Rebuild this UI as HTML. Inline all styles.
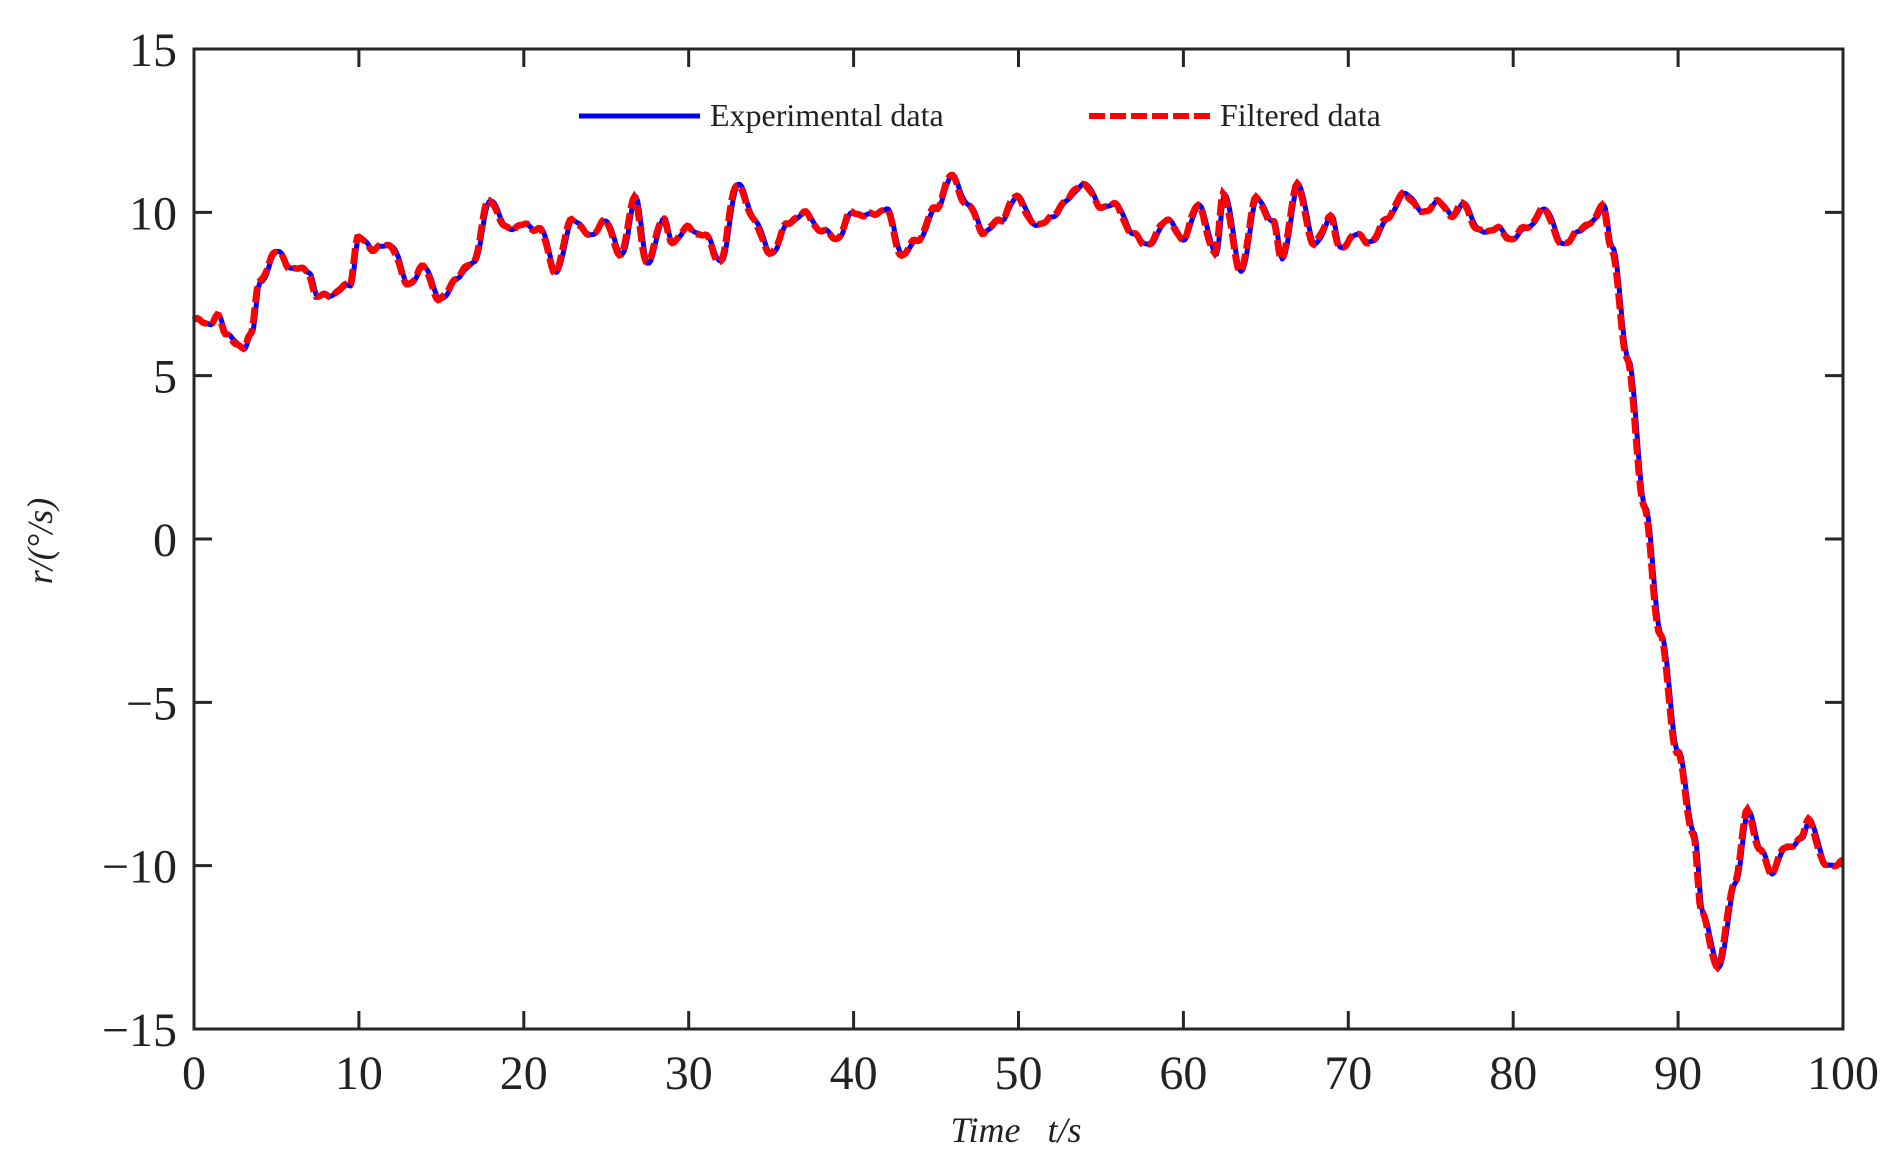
<!DOCTYPE html>
<html><head><meta charset="utf-8"><style>
html,body{margin:0;padding:0;background:#fff;}
svg text{font-family:"Liberation Serif",serif;fill:#222;}
</style></head><body>
<svg id="s" width="1898" height="1162" xmlns="http://www.w3.org/2000/svg">
<g id="ticks" stroke="#262626" stroke-width="3" fill="none"></g>
<g id="lines"></g>
<rect x="194" y="49" width="1649" height="980" fill="none" stroke="#262626" stroke-width="3"/>
<g id="labels" font-size="48"></g>
<line x1="579" y1="116" x2="700" y2="116" stroke="#0000ff" stroke-width="5"/>
<text x="710" y="126" font-size="32">Experimental data</text>
<line x1="1089" y1="116" x2="1211" y2="116" stroke="#ff0000" stroke-width="6" stroke-dasharray="16,5"/>
<text x="1220" y="126" font-size="32">Filtered data</text>
<text x="1016" y="1142" font-size="36" font-style="italic" text-anchor="middle">Time&#160;&#160;&#160;t/s</text>
<text transform="translate(52,541) rotate(-90)" font-size="36" font-style="italic" text-anchor="middle">r/(°/s)</text>
</svg>
<script>
var X=function(t){return 194+t*16.49},Y=function(v){return 49+(15-v)*32.667};
var NS="http://www.w3.org/2000/svg";
var tk=document.getElementById('ticks'),lb=document.getElementById('labels');
function el(p,n,a,txt){var e=document.createElementNS(NS,n);for(var k in a)e.setAttribute(k,a[k]);if(txt!==undefined)e.textContent=txt;p.appendChild(e);return e;}
for(var t=0;t<=100;t+=10){var x=X(t);el(tk,'line',{x1:x,y1:1029,x2:x,y2:1011});el(tk,'line',{x1:x,y1:49,x2:x,y2:67});
el(lb,'text',{x:x,y:1089,'text-anchor':'middle'},String(t));}
for(var v=-15;v<=15;v+=5){var y=Y(v);el(tk,'line',{x1:194,y1:y,x2:212,y2:y});el(tk,'line',{x1:1843,y1:y,x2:1825,y2:y});
el(lb,'text',{x:177,y:y+17,'text-anchor':'end'},v<0?'\u2212'+(-v):String(v));}
var K=[[0,6.7],[1,6.6],[1.5,6.8],[2,6.3],[3,5.8],[3.5,6.3],[4,7.8],[5,8.8],[6,8.3],[7,8.2],[7.5,7.4],[8.5,7.5],[9.5,7.8],[10,9.2],[11,8.9],[12,9.0],[13,7.8],[14,8.3],[15,7.3],[16,8.0],[17,8.5],[18,10.4],[19,9.5],[20,9.6],[21,9.5],[22,8.2],[23,9.8],[24,9.3],[25,9.7],[26,8.7],[26.8,10.5],[27.5,8.4],[28.5,9.8],[29,9.1],[30,9.5],[31,9.3],[32,8.5],[33,10.9],[34,9.8],[35,8.7],[36,9.6],[37,10.0],[38,9.5],[39,9.2],[40,10.0],[41,9.9],[42,10.1],[43,8.7],[44,9.2],[45,10.1],[46,11.1],[47,10.2],[48,9.4],[49,9.8],[50,10.5],[51,9.6],[52,9.8],[53,10.4],[54,10.9],[55,10.2],[56,10.2],[57,9.3],[58,9.0],[59,9.8],[60,9.2],[61,10.2],[62,8.7],[62.5,10.6],[63.5,8.2],[64.5,10.4],[65.5,9.7],[66,8.6],[67,10.8],[68,9.0],[69,9.9],[69.5,8.9],[70.5,9.3],[71.5,9.1],[72.5,9.9],[73.5,10.6],[74.5,10.0],[75.5,10.3],[76.5,9.9],[77,10.3],[78,9.4],[79,9.5],[80,9.2],[81,9.6],[82,10.1],[83,9.0],[84,9.4],[85,9.8],[85.5,10.2],[86,9.0],[87,5.5],[88,1.0],[89,-3.0],[90,-6.5],[91,-9.0],[91.5,-11.5],[92.5,-13.1],[93.5,-10.5],[94.3,-8.3],[95,-9.5],[95.7,-10.2],[96.5,-9.5],[97.5,-9.2],[98,-8.6],[99,-10],[100,-9.9]];
function f(t){for(var i=0;i<K.length-1;i++){if(t<=K[i+1][0]){var a=K[i],b=K[i+1],u=(t-a[0])/(b[0]-a[0]);u=(1-Math.cos(Math.PI*u))/2;return a[1]+(b[1]-a[1])*u;}}return K[K.length-1][1];}
function pts(dt,amp){var s=[];for(var t=0;t<=100;t+=0.1){var v=f(Math.min(100,Math.max(0,t+dt)))+amp*Math.sin(t*5.1)+amp*0.5*Math.sin(t*9.7);s.push(X(t).toFixed(1)+','+Y(v).toFixed(1));}return s.join(' ');}
var g=document.getElementById('lines');
el(g,'polyline',{points:pts(0,0.04),fill:'none',stroke:'#0000ff','stroke-width':5,'stroke-linejoin':'round'});
el(g,'polyline',{points:pts(0.08,0.06),fill:'none',stroke:'#ff0000','stroke-width':6.5,'stroke-dasharray':'16,5'});
</script>
</body></html>
